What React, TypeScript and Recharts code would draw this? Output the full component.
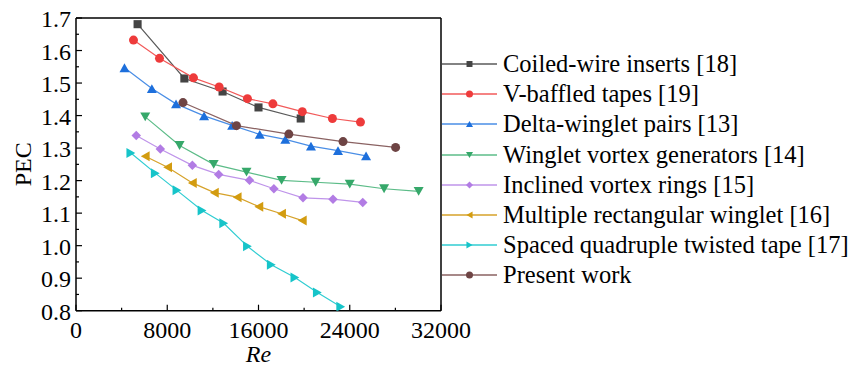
import React from 'react';
import { ScatterChart, Scatter, XAxis, YAxis, Legend, ReferenceLine } from 'recharts';

const FONT = 'Liberation Serif';

// ---- data (Re, PEC) ----
const coiledRe = [5400, 9500, 12850, 16000, 19700];
const coiledPec = [1.681, 1.514, 1.474, 1.425, 1.391];

const vBaffledRe = [5040, 7320, 10300, 12550, 15030, 17260, 19840, 22480, 24940];
const vBaffledPec = [1.632, 1.576, 1.516, 1.488, 1.452, 1.436, 1.412, 1.391, 1.38];

const deltaRe = [4250, 6650, 8770, 11230, 13690, 16110, 18350, 20600, 22970, 25430];
const deltaPec = [1.547, 1.483, 1.436, 1.399, 1.37, 1.342, 1.327, 1.306, 1.292, 1.276];

const wvgRe = [6070, 9080, 12070, 14950, 18020, 21010, 24000, 27010, 30040];
const wvgPec = [1.396, 1.308, 1.25, 1.226, 1.201, 1.195, 1.189, 1.175, 1.167];

const inclinedRe = [5280, 7390, 10200, 12510, 15210, 17350, 19900, 22530, 25140];
const inclinedPec = [1.339, 1.297, 1.247, 1.219, 1.201, 1.175, 1.147, 1.143, 1.133];

const multiRe = [6070, 8030, 10200, 12130, 14130, 16030, 18020, 19840];
const multiPec = [1.275, 1.241, 1.193, 1.163, 1.149, 1.12, 1.098, 1.077];

const spacedRe = [4810, 6950, 8850, 11050, 12950, 15030, 17120, 19190, 21160, 23210];
const spacedPec = [1.285, 1.223, 1.17, 1.108, 1.069, 0.998, 0.941, 0.902, 0.856, 0.812];

const presentRe = [9380, 14070, 18660, 23410, 28020];
const presentPec = [1.44, 1.369, 1.343, 1.32, 1.302];

const xTicks = [0, 4000, 8000, 12000, 16000, 20000, 24000, 28000, 32000];
const xMajor = [0, 8000, 16000, 24000, 32000];
const yTicks = [0.8, 0.85, 0.9, 0.95, 1.0, 1.05, 1.1, 1.15, 1.2, 1.25, 1.3, 1.35, 1.4, 1.45, 1.5, 1.55, 1.6, 1.65, 1.7];

const zip = (re: number[], pec: number[]) => re.map((r, i) => ({ re: r, pec: pec[i] }));

type Shape = 'square' | 'circle' | 'up' | 'down' | 'diamond' | 'left' | 'right';

const series: { name: string; data: { re: number; pec: number }[]; color: string; line: string; shape: Shape }[] = [
  { name: 'Coiled-wire inserts [18]', data: zip(coiledRe, coiledPec), color: '#444444', line: '#5a5a5a', shape: 'square' },
  { name: 'V-baffled tapes [19]', data: zip(vBaffledRe, vBaffledPec), color: '#ee3b3b', line: '#f25a5a', shape: 'circle' },
  { name: 'Delta-winglet pairs [13]', data: zip(deltaRe, deltaPec), color: '#1d6fdc', line: '#4a8ee6', shape: 'up' },
  { name: 'Winglet vortex generators [14]', data: zip(wvgRe, wvgPec), color: '#36a86a', line: '#5cbc88', shape: 'down' },
  { name: 'Inclined vortex rings [15]', data: zip(inclinedRe, inclinedPec), color: '#b27ce4', line: '#bf94ea', shape: 'diamond' },
  { name: 'Multiple rectangular winglet [16]', data: zip(multiRe, multiPec), color: '#d39c10', line: '#d6a22a', shape: 'left' },
  { name: 'Spaced quadruple twisted tape [17]', data: zip(spacedRe, spacedPec), color: '#16c4c9', line: '#30cdd2', shape: 'right' },
  { name: 'Present work', data: zip(presentRe, presentPec), color: '#6e4444', line: '#8a6262', shape: 'circle' },
];

const markerSize: Record<Shape, number> = { square: 9.5, circle: 9, up: 10, down: 10, left: 10, right: 10, diamond: 9.5 };

function Marker({ shape, cx, cy, color, s }: { shape: Shape; cx: number; cy: number; color: string; s: number }) {
  const h = s / 2;
  const t = s * 0.44;
  switch (shape) {
    case 'square':
      return <rect x={cx - h * 0.85} y={cy - h * 0.85} width={s * 0.85} height={s * 0.85} fill={color} />;
    case 'circle':
      return <circle cx={cx} cy={cy} r={h} fill={color} />;
    case 'up':
      return <polygon points={`${cx},${cy - t} ${cx + h},${cy + t} ${cx - h},${cy + t}`} fill={color} />;
    case 'down':
      return <polygon points={`${cx},${cy + t} ${cx + h},${cy - t} ${cx - h},${cy - t}`} fill={color} />;
    case 'left':
      return <polygon points={`${cx - t},${cy} ${cx + t},${cy - h} ${cx + t},${cy + h}`} fill={color} />;
    case 'right':
      return <polygon points={`${cx + t},${cy} ${cx - t},${cy - h} ${cx - t},${cy + h}`} fill={color} />;
    case 'diamond':
      return <polygon points={`${cx},${cy - h} ${cx + h},${cy} ${cx},${cy + h} ${cx - h},${cy}`} fill={color} />;
  }
  return null;
}

const XTick = (props: any) => {
  const { x, y, payload } = props;
  const major = xMajor.includes(payload.value);
  return (
    <g>
      <line x1={x} y1={y} x2={x} y2={y - (major ? 6 : 3)} stroke="#000" strokeWidth={1.2} />
      {major && (
        <text x={x} y={y + 27} textAnchor="middle" fontFamily={FONT} fontSize={24} fill="#000">
          {payload.value}
        </text>
      )}
    </g>
  );
};

const YTick = (props: any) => {
  const { x, y, payload } = props;
  const v = payload.value as number;
  const major = Math.abs(Math.round(v * 10) - v * 10) < 1e-6;
  return (
    <g>
      <line x1={x} y1={y} x2={x + (major ? 6 : 3)} y2={y} stroke="#000" strokeWidth={1.2} />
      {major && (
        <text x={x - 5} y={y + 9} textAnchor="end" fontFamily={FONT} fontSize={24} fill="#000">
          {v.toFixed(1)}
        </text>
      )}
    </g>
  );
};

const LegendContent = () => (
  <div style={{ fontFamily: FONT, fontSize: 24.5, color: '#000' }}>
    {series.map((s) => (
      <div key={s.name} style={{ display: 'flex', alignItems: 'center', height: 30.2, whiteSpace: 'nowrap' }}>
        <svg width={56} height={30} style={{ display: 'block' }}>
          <line x1={0} y1={15} x2={55} y2={15} stroke={s.line} strokeWidth={1.4} />
          <Marker shape={s.shape} cx={27.5} cy={15} color={s.color} s={7} />
        </svg>
        <span style={{ marginLeft: 5, lineHeight: '30px' }}>{s.name}</span>
      </div>
    ))}
  </div>
);

export default function App() {
  return (
    <div style={{ position: 'absolute', left: 0, top: 0, width: 855, height: 368 }}>
      <ScatterChart width={855} height={368} margin={{ top: 18, right: 414, left: 0, bottom: 0 }}>
        <XAxis
          type="number"
          dataKey="re"
          domain={[0, 32000]}
          ticks={xTicks}
          interval={0}
          allowDataOverflow
          height={57.3}
          tickSize={0}
          tickMargin={0}
          tickLine={false}
          axisLine={{ stroke: '#000', strokeWidth: 1.5 }}
          tick={<XTick />}
          label={{
            content: (p: any) => {
              const vb = p.viewBox || {};
              return (
                <text x={vb.x + vb.width / 2} y={vb.y + 51.5} textAnchor="middle" fontFamily={FONT} fontSize={24} fontStyle="italic" fill="#000">
                  Re
                </text>
              );
            },
          }}
        />
        <YAxis
          type="number"
          dataKey="pec"
          domain={[0.8, 1.7]}
          ticks={yTicks}
          interval={0}
          allowDataOverflow
          width={76}
          tickSize={0}
          tickMargin={0}
          tickLine={false}
          axisLine={{ stroke: '#000', strokeWidth: 1.5 }}
          tick={<YTick />}
          label={{
            content: (p: any) => {
              const vb = p.viewBox || {};
              const cx = vb.x + 23;
              const cy = vb.y + vb.height / 2;
              return (
                <text x={cx} y={cy} transform={`rotate(-90 ${cx} ${cy})`} textAnchor="middle" dominantBaseline="central" fontFamily={FONT} fontSize={24} fill="#000">
                  PEC
                </text>
              );
            },
          }}
        />
        <ReferenceLine y={1.7} stroke="#000" strokeWidth={1.5} />
        <ReferenceLine x={32000} stroke="#000" strokeWidth={1.5} />
        {series.map((s) => (
          <Scatter
            key={s.name}
            name={s.name}
            data={s.data}
            fill={s.color}
            line={{ stroke: s.line, strokeWidth: 1.2 }}
            lineType="joint"
            isAnimationActive={false}
            shape={(p: any) => (
              <Marker shape={s.shape} cx={p.cx} cy={p.cy} color={s.color} s={markerSize[s.shape]} />
            )}
          />
        ))}
        <Legend
          layout="vertical"
          verticalAlign="middle"
          align="center"
          content={<LegendContent />}
          wrapperStyle={{ left: 442, top: 49, width: 413, right: 'auto', bottom: 'auto' }}
        />
      </ScatterChart>
    </div>
  );
}
